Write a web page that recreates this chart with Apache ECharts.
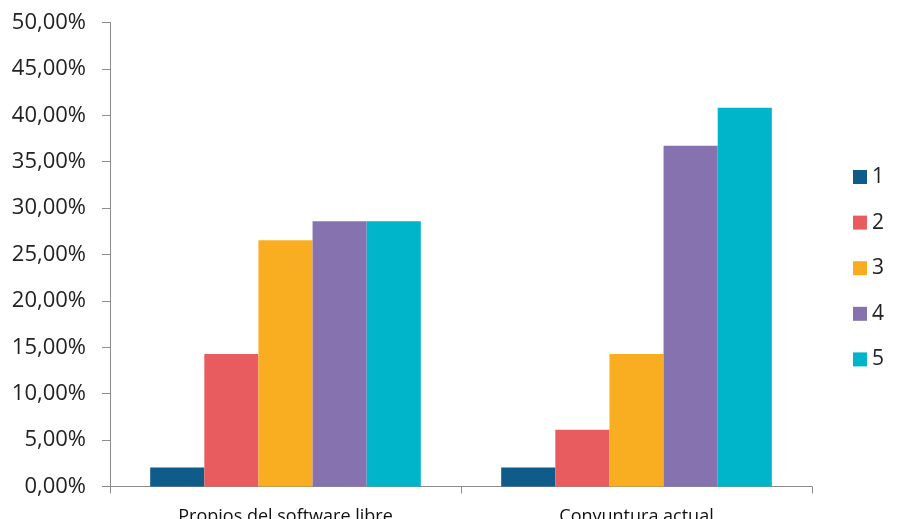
<!DOCTYPE html>
<html><head><meta charset="utf-8">
<script src="https://cdn.jsdelivr.net/npm/echarts@6/dist/echarts.min.js"></script>
<style>html,body{margin:0;padding:0;background:#fff}#c{width:904px;height:519px}</style>
</head><body><div id="c"></div>
<script>
const categories = ["Propios del software libre", "Conyuntura actual"];
const seriesNames = ["1", "2", "3", "4", "5"];
const s1 = [2.04, 2.04];
const s2 = [14.29, 6.12];
const s3 = [26.53, 14.29];
const s4 = [28.57, 36.73];
const s5 = [28.57, 40.82];
const colors = ["#0F5B8A", "#E85C5F", "#F9AE22", "#8672AF", "#00B4C9"];
const values = [s1, s2, s3, s4, s5];

const chart = echarts.init(document.getElementById('c'), null, {renderer: 'canvas'});
const axisColor = '#8C8C8C';
chart.setOption({
  animation: false,
  color: colors,
  grid: {left: 110, right: 92, top: 22.5, bottom: 32.5, containLabel: false, outerBoundsMode: 'none'},
  legend: {
    orient: 'vertical', left: 848, top: 161,
    itemWidth: 14, itemHeight: 14, itemGap: 23.6,
    icon: 'rect',
    textStyle: {fontFamily: 'Open Sans', fontSize: 21, color: '#222', lineHeight: 22},
    data: seriesNames
  },
  xAxis: {
    type: 'category', data: categories,
    axisLine: {lineStyle: {color: axisColor, width: 1}},
    axisTick: {show: true, length: 7, lineStyle: {color: axisColor}},
    axisLabel: {fontFamily: 'Open Sans', fontSize: 18, color: '#111', margin: 21}
  },
  yAxis: {
    type: 'value', min: 0, max: 50, interval: 5,
    splitLine: {show: false},
    axisLine: {show: true, lineStyle: {color: axisColor, width: 1}},
    axisTick: {show: true, length: 8, lineStyle: {color: axisColor}},
    axisLabel: {fontFamily: 'Open Sans', fontSize: 22, color: '#222', margin: 24,
      formatter: v => v.toFixed(2).replace('.', ',') + '%'}
  },
  series: seriesNames.map((n, i) => ({
    name: n, type: 'bar', data: values[i],
    barGap: '0%', barCategoryGap: '22.9%'
  }))
});
</script></body></html>
